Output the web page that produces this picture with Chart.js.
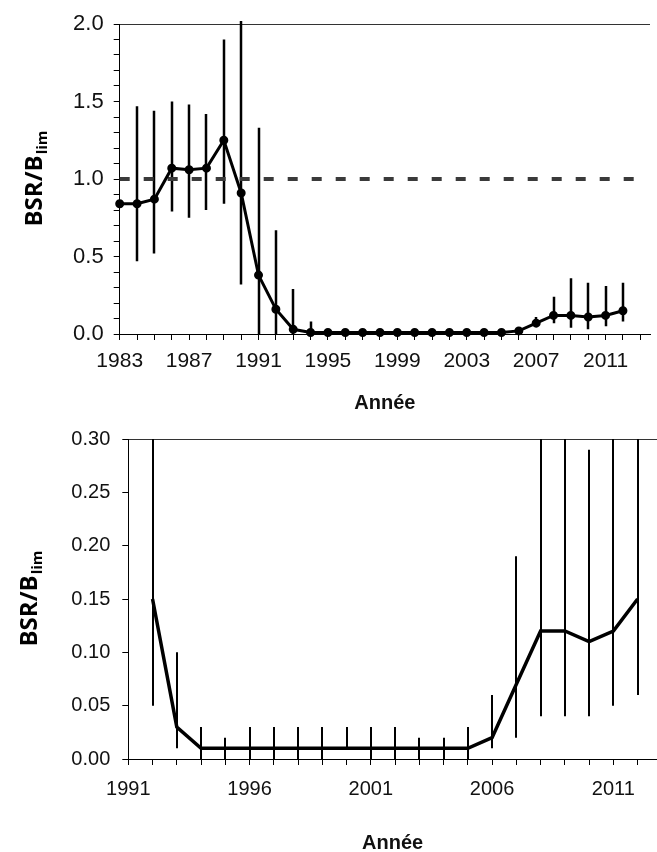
<!DOCTYPE html>
<html lang="fr">
<head>
<meta charset="utf-8">
<title>BSR/Blim</title>
<script src="https://cdn.jsdelivr.net/npm/chart.js@4.4.1/dist/chart.umd.min.js"></script>
<style>
  html, body { margin: 0; padding: 0; background: #fff; overflow: hidden; }
  #wrap { position: relative; width: 657px; height: 852px; }
  canvas { position: absolute; left: 0; }
  #topChart { top: 0; }
  #bottomChart { top: 415px; }
</style>
</head>
<body>
<div id="wrap">
  <canvas id="topChart" width="657" height="415"></canvas>
  <canvas id="bottomChart" width="657" height="440"></canvas>
</div>
<script>
// Full series 1983-2012
const yearsFull = [1983, 1984, 1985, 1986, 1987, 1988, 1989, 1990, 1991, 1992,
  1993, 1994, 1995, 1996, 1997, 1998, 1999, 2000, 2001, 2002,
  2003, 2004, 2005, 2006, 2007, 2008, 2009, 2010, 2011, 2012];
const ratioFull = [0.84, 0.84, 0.87, 1.07, 1.06, 1.07, 1.25, 0.91, 0.38, 0.16,
  0.03, 0.01, 0.01, 0.01, 0.01, 0.01, 0.01, 0.01, 0.01, 0.01,
  0.01, 0.01, 0.01, 0.02, 0.07, 0.12, 0.12, 0.11, 0.12, 0.15];
const lowFull = [null, 0.47, 0.52, 0.79, 0.75, 0.80, 0.84, 0.32, 0.00, 0.00,
  0.00, 0.01, null, null, null, null, null, null, null, null,
  null, null, null, null, 0.05, 0.07, 0.04, 0.03, 0.05, 0.08];
const highFull = [null, 1.47, 1.44, 1.50, 1.48, 1.42, 1.90, 2.02, 1.33, 0.67,
  0.29, 0.08, null, null, null, null, null, null, null, null,
  null, null, null, null, 0.11, 0.24, 0.36, 0.33, 0.31, 0.33];
const limitRatio = 1.0;

// Detail 1992-2012
const yearsZoom = [1992, 1993, 1994, 1995, 1996, 1997, 1998, 1999, 2000, 2001,
  2002, 2003, 2004, 2005, 2006, 2007, 2008, 2009, 2010, 2011, 2012];
const ratioZoom = [0.15, 0.03, 0.01, 0.01, 0.01, 0.01, 0.01, 0.01, 0.01, 0.01,
  0.01, 0.01, 0.01, 0.01, 0.02, 0.07, 0.12, 0.12, 0.11, 0.12, 0.15];
const lowZoom = [0.05, 0.01, 0.00, 0.00, 0.00, 0.00, 0.00, 0.00, 0.01, 0.00,
  0.00, 0.00, 0.00, 0.00, 0.01, 0.02, 0.04, 0.04, 0.04, 0.05, 0.06];
const highZoom = [0.67, 0.10, 0.03, 0.02, 0.03, 0.03, 0.03, 0.03, 0.03, 0.03,
  0.03, 0.02, 0.02, 0.03, 0.06, 0.19, 0.36, 0.36, 0.29, 0.33, 0.33];

Chart.defaults.font.family = '"Liberation Sans", Arial, sans-serif';
Chart.defaults.color = '#111';

// vertical interval bars, drawn under the line
const errorBars = {
  id: 'errorBars',
  beforeDatasetsDraw(chart) {
    const { ctx, chartArea, scales: { x, y } } = chart;
    chart.data.datasets.forEach(ds => {
      if (!ds.lower) return;
      ctx.save();
      if (ds.clipBars) {
        ctx.beginPath();
        ctx.rect(chartArea.left - 5, chartArea.top, chartArea.width + 10, chartArea.height);
        ctx.clip();
      }
      ctx.strokeStyle = '#000';
      ctx.lineWidth = ds.barWidth || 2;
      ctx.beginPath();
      ds.data.forEach((pt, i) => {
        const lo = ds.lower[i], hi = ds.upper[i];
        if (lo == null || hi == null) return;
        const px = Math.round(x.getPixelForValue(pt.x));
        ctx.moveTo(px, y.getPixelForValue(lo));
        ctx.lineTo(px, y.getPixelForValue(hi));
      });
      ctx.stroke();
      ctx.restore();
    });
  }
};

// rotated "BSR/B" with subscript "lim"
const ratioTitle = {
  id: 'ratioTitle',
  afterDraw(chart, args, opts) {
    const { ctx, chartArea } = chart;
    const mainFont = 'bold 24px "Open Sans", sans-serif';
    const subFont = 'bold 15px "Open Sans", sans-serif';
    ctx.save();
    ctx.translate(opts.x, (chartArea.top + chartArea.bottom) / 2);
    ctx.rotate(-Math.PI / 2);
    ctx.fillStyle = '#000';
    ctx.textBaseline = 'alphabetic';
    ctx.font = mainFont;
    const w1 = ctx.measureText('BSR/B').width;
    ctx.font = subFont;
    const w2 = ctx.measureText('lim').width;
    const start = -(w1 + w2) / 2;
    ctx.font = mainFont;
    ctx.fillText('BSR/B', start, 0);
    ctx.font = subFont;
    ctx.fillText('lim', start + w1 + 1, 5);
    ctx.restore();
  }
};

function topLine(max) {
  return c => (c.tick && Math.abs(c.tick.value - max) < 1e-9 ? '#333' : 'rgba(0,0,0,0)');
}

function build() {
  new Chart(document.getElementById('topChart'), {
    type: 'line',
    data: {
      datasets: [
        {
          data: yearsFull.map((yr, i) => ({ x: yr, y: ratioFull[i] })),
          lower: lowFull,
          upper: highFull,
          barWidth: 2.5,
          borderColor: '#000',
          backgroundColor: '#000',
          borderWidth: 3,
          pointRadius: 3,
          pointBackgroundColor: '#000',
          tension: 0,
          clip: false
        },
        {
          data: [{ x: 1983, y: limitRatio }, { x: 2013.3, y: limitRatio }],
          borderColor: '#3a3a3a',
          borderWidth: 4,
          borderDash: [10, 14],
          pointRadius: 0,
          clip: false
        }
      ]
    },
    options: {
      responsive: false,
      animation: false,
      layout: { padding: { top: 24, left: 0, right: 0, bottom: 0 } },
      plugins: { legend: { display: false }, tooltip: { enabled: false }, ratioTitle: { x: 42 } },
      scales: {
        x: {
          type: 'linear', min: 1983, max: 2013.56,
          afterFit: s => { s.height = 81; },
          border: { color: '#000', width: 1 },
          grid: { drawOnChartArea: false, color: '#000', tickLength: 6 },
          ticks: {
            stepSize: 1, autoSkip: false, maxRotation: 0, includeBounds: false,
            padding: 9, font: { size: 21 },
            callback: v => ((v - 1983) % 4 === 0 && v <= 2011 ? String(v) : '')
          },
          title: { display: true, text: 'Année', color: '#111', font: { size: 20, weight: 'bold' }, padding: { top: 0, bottom: 0 } }
        },
        y: {
          min: 0, max: 2,
          afterFit: s => { s.width = 119.7; },
          border: { color: '#000', width: 1 },
          grid: { tickLength: 6, tickColor: '#000', color: topLine(2) },
          ticks: {
            stepSize: 0.1, autoSkip: false, padding: 10, font: { size: 22 },
            callback: v => (Math.abs(v * 2 - Math.round(v * 2)) < 1e-6 ? v.toFixed(1) : '')
          }
        }
      }
    },
    plugins: [errorBars, ratioTitle]
  });

  new Chart(document.getElementById('bottomChart'), {
    type: 'line',
    data: {
      datasets: [{
        data: yearsZoom.map((yr, i) => ({ x: yr, y: ratioZoom[i] })),
        lower: lowZoom,
        upper: highZoom,
        clipBars: true,
        barWidth: 2,
        borderColor: '#000',
        borderWidth: 3.5,
        pointRadius: 0,
        tension: 0,
        clip: false
      }]
    },
    options: {
      responsive: false,
      animation: false,
      layout: { padding: { top: 16, left: 0, right: 0, bottom: 0 } },
      plugins: { legend: { display: false }, tooltip: { enabled: false }, ratioTitle: { x: 37 } },
      scales: {
        x: {
          type: 'linear', min: 1991, max: 2012.8,
          afterFit: s => { s.height = 96; },
          border: { color: '#000', width: 1 },
          grid: { drawOnChartArea: false, color: '#000', tickLength: 6 },
          ticks: {
            stepSize: 1, autoSkip: false, maxRotation: 0, includeBounds: false,
            padding: 12, font: { size: 20 },
            callback: v => ((v - 1991) % 5 === 0 ? String(v) : '')
          },
          title: { display: true, text: 'Année', color: '#111', font: { size: 20, weight: 'bold' }, padding: { top: 0, bottom: 0 } }
        },
        y: {
          min: 0, max: 0.3,
          afterFit: s => { s.width = 128.3; },
          border: { color: '#000', width: 1 },
          grid: { tickLength: 6, tickColor: '#000', color: topLine(0.3) },
          ticks: {
            stepSize: 0.05, autoSkip: false, padding: 12, font: { size: 20 },
            callback: v => v.toFixed(2)
          }
        }
      }
    },
    plugins: [errorBars, ratioTitle]
  });
}

document.fonts.load('bold 24px "Open Sans"').then(build, build);
</script>
</body>
</html>
